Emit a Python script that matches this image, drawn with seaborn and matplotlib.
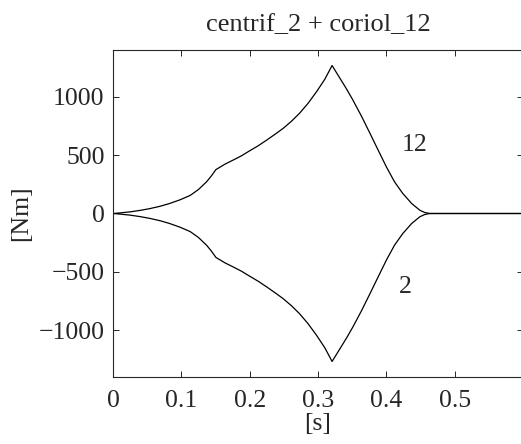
import matplotlib
matplotlib.use("Agg")
import matplotlib.pyplot as plt
import seaborn as sns
import pandas as pd

# Time axis [s] and torque components [Nm]
time_s = [0.0, 0.010, 0.025, 0.040, 0.054, 0.069, 0.083, 0.098, 0.113, 0.125,
          0.137, 0.144, 0.1506, 0.164, 0.176, 0.188, 0.200, 0.2125, 0.225,
          0.237, 0.249, 0.261, 0.273, 0.2855, 0.298, 0.310, 0.3206, 0.332,
          0.342, 0.351, 0.364, 0.376, 0.388, 0.400, 0.412, 0.424, 0.437,
          0.449, 0.456, 0.4635, 0.6]
coriol_12 = [0, 5, 14, 27, 42, 62, 86, 117, 155, 205,
             272, 322, 376, 423, 458, 494, 537, 580, 629,
             678, 729, 789, 858, 944, 1044, 1150, 1267, 1159,
             1064, 972, 829, 687, 543, 400, 271, 172, 86,
             28, 9, 0, 0]
centrif_2 = [0, -5, -14, -27, -42, -62, -86, -117, -155, -205,
             -272, -322, -376, -423, -458, -494, -537, -580, -629,
             -678, -729, -789, -858, -944, -1044, -1150, -1267, -1159,
             -1064, -972, -829, -687, -543, -400, -271, -172, -86,
             -28, -9, 0, 0]

curve_labels = ["12", "2"]
label_pos = [(0.4415, 584), (0.428, -627)]

x_ticks = [0, 0.1, 0.2, 0.3, 0.4, 0.5]
x_tick_labels = ["0", "0.1", "0.2", "0.3", "0.4", "0.5"]
y_ticks = [-1000, -500, 0, 500, 1000]

title = "centrif_2 + coriol_12"
x_label = "[s]"
y_label = "[Nm]"

sns.set_style("ticks")
plt.rcParams["font.family"] = ["Liberation Serif", "DejaVu Serif"]

fig = plt.figure(figsize=(5.21, 4.44), dpi=100)
W, H = 521, 444
ax = fig.add_axes([113 / W, (H - 377) / H, (523 - 113) / W, (377 - 50) / H])

df = pd.DataFrame({"t": time_s * 2,
                   "v": coriol_12 + centrif_2,
                   "s": ["coriol"] * len(time_s) + ["centrif"] * len(time_s)})
sns.lineplot(data=df, x="t", y="v", units="s", estimator=None, sort=False,
             color="black", linewidth=0.9, ax=ax, legend=False)

for txt, (x, y) in zip(curve_labels, label_pos):
    ax.text(x, y, txt, fontsize=18.5, ha="center", va="center")

ax.set_xlim(0, 0.6)
ax.set_ylim(-1400, 1400)
ax.set_xticks(x_ticks)
ax.set_xticklabels(x_tick_labels)
ax.set_yticks(y_ticks)
ax.tick_params(direction="in", length=4, width=0.7, labelsize=18.5,
               top=True, right=True)
ax.tick_params(axis="x", pad=9)
ax.tick_params(axis="y", pad=6)
for sp in ax.spines.values():
    sp.set_linewidth(0.8)
    sp.set_visible(True)

ax.set_title(title, fontsize=19, pad=13.5)
ax.set_xlabel(x_label, fontsize=18.5, labelpad=1)
ax.set_ylabel(y_label, fontsize=18.5, labelpad=5)

fig.savefig("out.png", dpi=100, facecolor="white")
